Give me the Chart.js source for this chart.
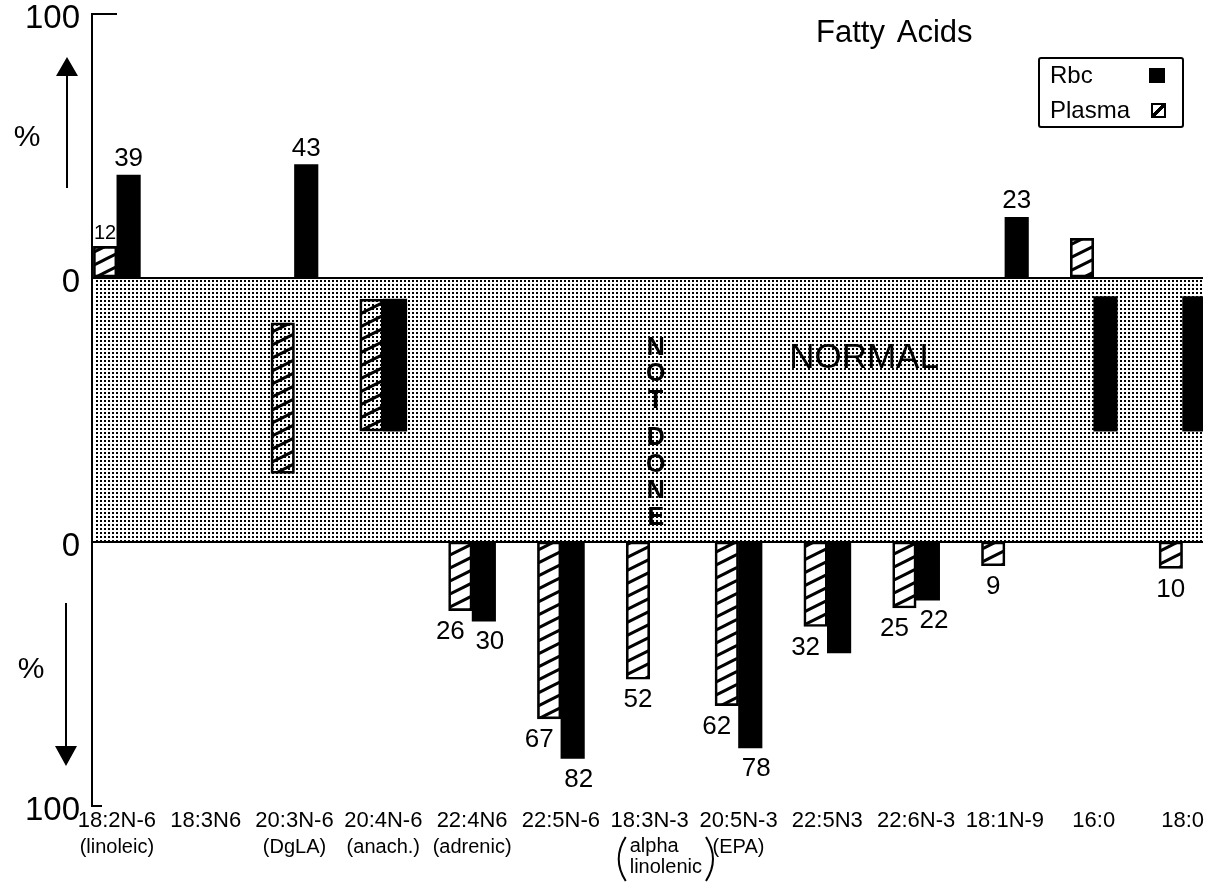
<!DOCTYPE html>
<html>
<head>
<meta charset="utf-8">
<title>Fatty Acids</title>
<script src="https://cdn.jsdelivr.net/npm/chart.js@4.4.0/dist/chart.umd.min.js"></script>
<style>
    html, body { margin: 0; padding: 0; background: #fff; }
    #wrap { position: relative; width: 1209px; height: 886px; overflow: hidden; }
    #chart { display: block; }
    .txt { position: absolute; font-family: 'Liberation Sans', Arial, sans-serif; color: #000; white-space: nowrap; line-height: 1; }
    #title { left: 816px; top: 16px; font-size: 31px; word-spacing: 5px; }
    #legendBox { position: absolute; left: 1038px; top: 57px; width: 142px; height: 67px; border: 2px solid #000; border-radius: 3px; }
    .sw { position: absolute; box-sizing: border-box; }
    #swRbc { left: 1149px; top: 68px; width: 16px; height: 15px; background: #000; }
    #swPlasma { left: 1151px; top: 103px; width: 15px; height: 15px; border: 2px solid #000;
        background: linear-gradient(to bottom right, transparent 38%, #000 38%, #000 62%, transparent 62%); }
</style>
</head>
<body>
<div id="wrap">
    <canvas id="chart" width="1209" height="886"></canvas>
    <div class="txt" id="title">Fatty Acids</div>
    <div id="legendBox"></div>
    <div class="txt" style="left:1050px; top:63px; font-size:24px;">Rbc</div>
    <div class="sw" id="swRbc"></div>
    <div class="txt" style="left:1050px; top:98px; font-size:24px;">Plasma</div>
    <div class="sw" id="swPlasma"></div>
</div>
<script>
/* ---------- data ---------- */

// fatty acids along the x axis
const categories = ['18:2N-6', '18:3N6', '20:3N-6', '20:4N-6', '22:4N6', '22:5N-6',
    '18:3N-3', '20:5N-3', '22:5N3', '22:6N-3', '18:1N-9', '16:0', '18:0'];
const subLabels = [['(linoleic)'], [], ['(DgLA)'], ['(anach.)'], ['(adrenic)'], [],
    ['alpha', 'linolenic'], ['(EPA)'], [], [], [], [], []];

// % above (+) or below (-) the normal range; null = no bar outside normal
const plasmaChange = [12, null, null, null, -26, -67, -52, -62, -32, -25, -9, 15, -10];
const rbcChange = [39, null, 43, null, -30, -82, null, -78, -42, -22, 23, null, null];

// bars that sit inside the normal band: [from, to] as % of the band depth
const plasmaNormal = [null, null, [17, 74], [8, 58], null, null, null, null, null, null, null, null, null];
const rbcNormal = [null, null, null, [8, 58], null, null, null, null, null, null, null, [7, 58], [7, 58]];

// numbers printed next to the bars
const plasmaLabels = ['12', '', '', '', '26', '67', '52', '62', '32', '25', '9', '', '10'];
const rbcLabels = ['39', '', '43', '', '30', '82', '', '78', '', '22', '23', '', ''];

// y axis: upper panel 0..100, normal band 0..-100, lower panel -100..-200
const yTickValues = [-200, -100, 0, 100];
const yTickLabels = ['100', '0', '0', '100'];
const notDoneIndex = 6;

/* ---------- helpers ---------- */
const FONT = "'Liberation Sans', Arial, sans-serif";

function toAxis(change, normal) {
    if (change !== null) return change > 0 ? [0, change] : [-100, -100 + change];
    if (normal) return [-normal[0], -normal[1]];
    return null;
}

function buildData(changes, otherChanges, normals, labels) {
    const out = [];
    categories.forEach((c, i) => {
        const y = toAxis(changes[i], normals[i]);
        if (!y) return;
        const v = changes[i];
        out.push({
            x: i, y, label: labels[i],
            above: v !== null && v > 0,
            below: v !== null && v < 0,
            paired: v !== null && v < 0 && otherChanges[i] !== null && otherChanges[i] < 0
        });
    });
    return out;
}

function makeHatch() {
    const w = 26, h = 13;
    const c = document.createElement('canvas');
    c.width = w; c.height = h;
    const g = c.getContext('2d');
    g.strokeStyle = '#000';
    g.lineWidth = 3;
    for (let n = -1; n <= 1; n++) {
        g.beginPath();
        g.moveTo(-2, h + n * h + 1);
        g.lineTo(w + 2, n * h - 1);
        g.stroke();
    }
    return g.createPattern(c, 'repeat');
}

function makeDots() {
    const c = document.createElement('canvas');
    c.width = 4; c.height = 4;
    const g = c.getContext('2d');
    g.fillStyle = '#000';
    g.fillRect(0, 0, 2, 2);
    return g.createPattern(c, 'repeat');
}

const hatch = makeHatch();
const dots = makeDots();

/* ---------- extra drawing: band, labels, notes ---------- */
const decorPlugin = {
    id: 'decor',
    beforeDatasetsDraw(chart) {
        const { ctx, chartArea, scales: { y } } = chart;
        const top = y.getPixelForValue(0), bottom = y.getPixelForValue(-100);
        ctx.save();
        ctx.fillStyle = dots;
        ctx.fillRect(chartArea.left + 2, top + 2, chartArea.right - chartArea.left - 2, bottom - top - 3);
        ctx.restore();
    },
    afterDatasetsDraw(chart) {
        const { ctx, chartArea, scales: { x, y } } = chart;
        ctx.save();
        ctx.fillStyle = '#000';
        ctx.strokeStyle = '#000';

        // value labels at the bar ends
        ctx.textAlign = 'center';
        chart.data.datasets.forEach((ds, di) => {
            const meta = chart.getDatasetMeta(di);
            meta.data.forEach((bar, j) => {
                const raw = ds.data[j];
                if (!raw.label) return;
                if (raw.above) {
                    ctx.textBaseline = 'bottom';
                    ctx.font = (raw.label === '12' ? '20px ' : '26px ') + FONT;
                    ctx.fillText(raw.label, bar.x, bar.y - 3);
                } else if (raw.below) {
                    ctx.textBaseline = 'top';
                    ctx.font = '26px ' + FONT;
                    const dx = raw.paired ? (di === 0 ? -10 : 6) : 0;
                    ctx.fillText(raw.label, bar.x + dx, bar.y + 8);
                }
            });
        });

        // NOT DONE, written downwards in the Rbc slot
        const bandTop = y.getPixelForValue(0);
        const nx = x.getPixelForValue(notDoneIndex) + 6;
        ctx.font = 'bold 25px ' + FONT;
        ctx.textBaseline = 'middle';
        let ny = bandTop + 70;
        'NOT DONE'.split('').forEach(ch => {
            if (ch === ' ') { ny += 11; return; }
            ctx.fillText(ch, nx, ny);
            ny += 26.5;
        });

        // NORMAL
        ctx.font = '35px ' + FONT;
        ctx.fillText('NORMAL', 864, bandTop + 80);

        // secondary names under the acid codes
        ctx.font = '20px ' + FONT;
        ctx.lineWidth = 2;
        subLabels.forEach((lines, i) => {
            if (!lines.length) return;
            const cx = x.getPixelForValue(i);
            if (lines.length === 1) {
                ctx.textAlign = 'center';
                ctx.fillText(lines[0], cx, chartArea.bottom + 41);
            } else {
                const left = cx - 20;
                const w = Math.max(...lines.map(l => ctx.measureText(l).width));
                ctx.textAlign = 'left';
                lines.forEach((l, k) => ctx.fillText(l, left, chartArea.bottom + 40 + k * 21));
                // tall thin brackets round the two lines
                const t = chartArea.bottom + 31, b = chartArea.bottom + 75;
                const lx = left - 4, rx = left + w + 4;
                ctx.beginPath();
                ctx.moveTo(lx, t); ctx.quadraticCurveTo(lx - 14, (t + b) / 2, lx, b);
                ctx.moveTo(rx, t); ctx.quadraticCurveTo(rx + 14, (t + b) / 2, rx, b);
                ctx.stroke();
            }
        });

        // axis end ticks
        ctx.lineWidth = 2;
        ctx.beginPath();
        ctx.moveTo(chartArea.left, chartArea.top);
        ctx.lineTo(chartArea.left + 25, chartArea.top);
        ctx.moveTo(chartArea.left, chartArea.bottom);
        ctx.lineTo(chartArea.left + 10, chartArea.bottom);
        ctx.stroke();

        // % with arrows
        ctx.font = '30px ' + FONT;
        ctx.textAlign = 'center';
        ctx.fillText('%', 27, 138);
        ctx.fillText('%', 31, 670);
        ctx.beginPath();
        ctx.moveTo(67, 188); ctx.lineTo(67, 74);
        ctx.moveTo(66, 603); ctx.lineTo(66, 748);
        ctx.stroke();
        ctx.beginPath();
        ctx.moveTo(67, 57); ctx.lineTo(78, 76); ctx.lineTo(56, 76); ctx.closePath();
        ctx.moveTo(66, 766); ctx.lineTo(77, 746); ctx.lineTo(55, 746); ctx.closePath();
        ctx.fill();
        ctx.restore();
    }
};

/* ---------- chart ---------- */
new Chart(document.getElementById('chart'), {
    type: 'bar',
    data: {
        datasets: [
            {
                label: 'Plasma',
                data: buildData(plasmaChange, rbcChange, plasmaNormal, plasmaLabels),
                backgroundColor: hatch,
                borderColor: '#000',
                borderWidth: 2,
                borderSkipped: false,
                barThickness: 23.5
            },
            {
                label: 'Rbc',
                data: buildData(rbcChange, plasmaChange, rbcNormal, rbcLabels),
                backgroundColor: '#000',
                borderWidth: 0,
                barThickness: 23.5
            }
        ]
    },
    options: {
        responsive: false,
        animation: false,
        devicePixelRatio: 1,
        layout: { padding: { top: 14, right: 6, left: 0, bottom: 0 } },
        plugins: { legend: { display: false }, tooltip: { enabled: false } },
        scales: {
            x: {
                type: 'linear',
                offset: false,
                min: -0.28,
                max: 12.23,
                grid: { display: false },
                border: { display: false },
                afterBuildTicks: s => { s.ticks = categories.map((c, i) => ({ value: i })); },
                afterFit: s => { s.height = 80; s.paddingLeft = 0; s.paddingRight = 0; },
                ticks: {
                    autoSkip: false,
                    maxRotation: 0,
                    minRotation: 0,
                    padding: -4,
                    color: '#000',
                    font: { family: FONT, size: 22, lineHeight: 1 },
                    callback: v => categories[v]
                }
            },
            y: {
                min: -200,
                max: 100,
                afterBuildTicks: s => { s.ticks = yTickValues.map(v => ({ value: v })); },
                afterFit: s => { s.width = 92; s.paddingTop = 0; s.paddingBottom = 0; },
                border: { display: true, color: '#000', width: 2 },
                grid: {
                    drawTicks: false,
                    lineWidth: 2,
                    color: c => (c.tick && (c.tick.value === 0 || c.tick.value === -100)) ? '#000' : 'rgba(0,0,0,0)'
                },
                ticks: {
                    padding: 12,
                    labelOffset: 5,
                    color: '#000',
                    font: { family: FONT, size: 33 },
                    callback: (v, i) => yTickLabels[i]
                }
            }
        }
    },
    plugins: [decorPlugin]
});
</script>
</body>
</html>
